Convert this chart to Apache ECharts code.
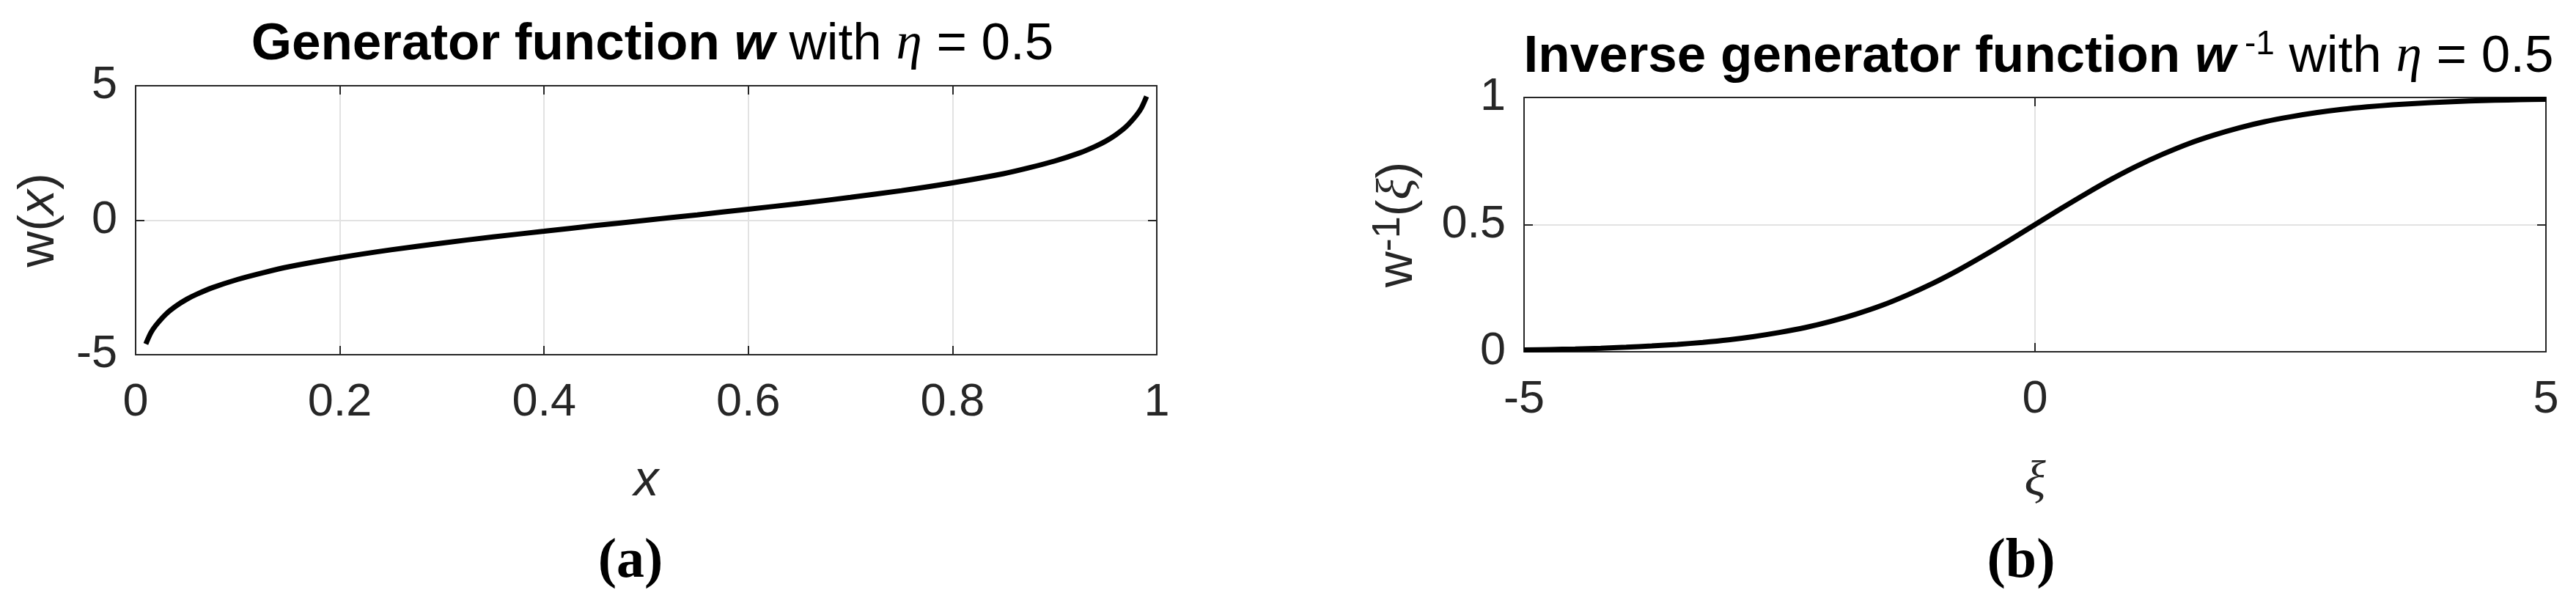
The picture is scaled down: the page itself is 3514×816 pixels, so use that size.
<!DOCTYPE html>
<html>
<head>
<meta charset="utf-8">
<title>Generator function</title>
<script src="https://cdn.jsdelivr.net/npm/echarts@6/dist/echarts.min.js"></script>
<style>
  html, body { margin: 0; padding: 0; background: #fff; }
  #myCharts { width: 3514px; height: 816px; }
</style>
</head>
<body>
<div id="myCharts"></div>
<script>
// values
// (a) generator function w(x)
var genX = [0.01, 0.015, 0.02, 0.03, 0.04, 0.05, 0.06, 0.075, 0.1, 0.125, 0.15, 0.2, 0.25, 0.3, 0.35, 0.4, 0.45, 0.5,
  0.55, 0.6, 0.65, 0.7, 0.75, 0.8, 0.85, 0.875, 0.9, 0.925, 0.94, 0.95, 0.96, 0.97, 0.98, 0.985, 0.99]
var genW = [-4.6, -4.18, -3.9, -3.48, -3.18, -2.94, -2.75, -2.51, -2.2, -1.95, -1.73, -1.39, -1.1, -0.85, -0.62, -0.41, -0.2, 0,
  0.2, 0.41, 0.62, 0.85, 1.1, 1.39, 1.73, 1.95, 2.2, 2.51, 2.75, 2.94, 3.18, 3.48, 3.9, 4.18, 4.6]
// (b) inverse generator function
var invXi = [-5, -4.75, -4.5, -4.25, -4, -3.75, -3.5, -3.25, -3, -2.75, -2.5, -2.25, -2, -1.75, -1.5, -1.25, -1, -0.75, -0.5, -0.25, 0,
  0.25, 0.5, 0.75, 1, 1.25, 1.5, 1.75, 2, 2.25, 2.5, 2.75, 3, 3.25, 3.5, 3.75, 4, 4.25, 4.5, 4.75, 5]
var invW = [0.007, 0.009, 0.011, 0.014, 0.018, 0.023, 0.029, 0.037, 0.047, 0.06, 0.076, 0.095, 0.119, 0.148, 0.182, 0.223, 0.269, 0.321, 0.378, 0.438, 0.5,
  0.562, 0.622, 0.679, 0.731, 0.777, 0.818, 0.852, 0.881, 0.905, 0.924, 0.94, 0.953, 0.963, 0.971, 0.977, 0.982, 0.986, 0.989, 0.991, 0.993]
// axis ranges / ticks  [min, max, interval]
var genXTicks = [0, 1, 0.2]
var genWTicks = [-5, 5, 5]
var invXiTicks = [-5, 5, 5]
var invWTicks = [0, 1, 0.5]

var SANS = '"Liberation Sans", Arial, sans-serif'
var SERIF = '"Liberation Serif", "Times New Roman", serif'
var AXIS_COLOR = '#262626'

function pairs (xs, ys) {
  return xs.map(function (x, i) { return [x, ys[i]] })
}

// one axis of a boxed matlab-like plot
function makeAxis (gridIndex, position, ticks, showLabel, extra) {
  var ax = {
    type: 'value',
    gridIndex: gridIndex,
    position: position,
    min: ticks[0],
    max: ticks[1],
    interval: ticks[2],
    axisLine: { show: true, onZero: false, lineStyle: { color: AXIS_COLOR, width: 2 } },
    axisTick: { show: true, inside: true, length: 12, lineStyle: { color: AXIS_COLOR, width: 2 } },
    axisLabel: {
      show: showLabel,
      color: AXIS_COLOR,
      fontSize: 63,
      fontFamily: SANS,
      margin: (position === 'bottom' || position === 'top') ? 34 : 25
    },
    splitLine: { show: showLabel, lineStyle: { color: '#e2e2e2', width: 2 } }
  }
  return Object.assign(ax, extra || {})
}

var nameRich = {
  n: { fontSize: 68, fontFamily: SANS, fontWeight: 'normal', color: AXIS_COLOR, lineHeight: 80 },
  i: { fontSize: 68, fontFamily: SANS, fontWeight: 'normal', fontStyle: 'italic', color: AXIS_COLOR, lineHeight: 80 },
  g: { fontSize: 68, fontFamily: SERIF, fontWeight: 'normal', fontStyle: 'italic', color: AXIS_COLOR, lineHeight: 80 },
  s: { fontSize: 54, fontFamily: SANS, fontWeight: 'normal', color: AXIS_COLOR, lineHeight: 22, verticalAlign: 'top' }
}

var titleRich = {
  b: { fontSize: 71, fontFamily: SANS, fontWeight: 'bold', color: '#000', lineHeight: 80 },
  bi: { fontSize: 71, fontFamily: SANS, fontWeight: 'bold', fontStyle: 'italic', color: '#000', lineHeight: 80 },
  n: { fontSize: 71, fontFamily: SANS, fontWeight: 'normal', color: '#000', lineHeight: 80 },
  g: { fontSize: 71, fontFamily: SERIF, fontWeight: 'normal', fontStyle: 'italic', color: '#000', lineHeight: 80 },
  sup: { fontSize: 46, fontFamily: SANS, fontWeight: 'normal', color: '#000', lineHeight: 56, verticalAlign: 'top' }
}

var option = {
  backgroundColor: '#fff',
  animation: false,
  title: [
    {
      text: '{b|Generator function }{bi|w}{n| with }{g|η}{n| = 0.5}',
      left: 890,
      top: 21,
      textAlign: 'center',
      padding: 0,
      textStyle: { fontWeight: 'normal', rich: titleRich }
    },
    {
      text: '{b|Inverse generator function }{bi|w}{sup| -1}{n| with }{g|η}{n| = 0.5}',
      left: 2781,
      top: 38,
      textAlign: 'center',
      padding: 0,
      textStyle: { fontWeight: 'normal', rich: titleRich }
    }
  ],
  grid: [
    { left: 185, top: 117, width: 1393, height: 367, containLabel: false, outerBoundsMode: 'none' },
    { left: 2079, top: 133, width: 1394, height: 347, containLabel: false, outerBoundsMode: 'none' }
  ],
  xAxis: [
    makeAxis(0, 'bottom', genXTicks, true, {
      name: '{i|x}',
      nameLocation: 'middle',
      nameGap: 133,
      nameTextStyle: { rich: nameRich }
    }),
    makeAxis(0, 'top', genXTicks, false),
    makeAxis(1, 'bottom', invXiTicks, true, {
      name: '{g|ξ}',
      nameLocation: 'middle',
      nameGap: 138,
      nameTextStyle: { rich: nameRich }
    }),
    makeAxis(1, 'top', invXiTicks, false)
  ],
  yAxis: [
    makeAxis(0, 'left', genWTicks, true, {
      name: '{n|w(}{i|x}{n|)}',
      nameLocation: 'middle',
      nameGap: 91,
      nameTextStyle: { rich: nameRich }
    }),
    makeAxis(0, 'right', genWTicks, false),
    makeAxis(1, 'left', invWTicks, true, {
      name: '{n|w}{s|-1}{n|(}{g|ξ}{n|)}',
      nameLocation: 'middle',
      nameGap: 132,
      nameTextStyle: { rich: nameRich }
    }),
    makeAxis(1, 'right', invWTicks, false)
  ],
  series: [
    {
      name: 'w',
      type: 'line',
      xAxisIndex: 0,
      yAxisIndex: 0,
      data: pairs(genX, genW),
      showSymbol: false,
      smooth: 0.3,
      clip: false,
      lineStyle: { color: '#000', width: 7 }
    },
    {
      name: 'w-1',
      type: 'line',
      xAxisIndex: 2,
      yAxisIndex: 2,
      data: pairs(invXi, invW),
      showSymbol: false,
      smooth: 0.3,
      clip: false,
      lineStyle: { color: '#000', width: 7 }
    }
  ],
  graphic: [
    {
      type: 'text',
      x: 860,
      y: 767,
      style: { text: '(a)', fontSize: 76, fontWeight: 'bold', fontFamily: SERIF, fill: '#000', align: 'center', verticalAlign: 'middle' }
    },
    {
      type: 'text',
      x: 2757,
      y: 767,
      style: { text: '(b)', fontSize: 76, fontWeight: 'bold', fontFamily: SERIF, fill: '#000', align: 'center', verticalAlign: 'middle' }
    }
  ]
}

var myCharts = echarts.init(document.getElementById('myCharts'))
myCharts.setOption(option)
</script>
</body>
</html>
